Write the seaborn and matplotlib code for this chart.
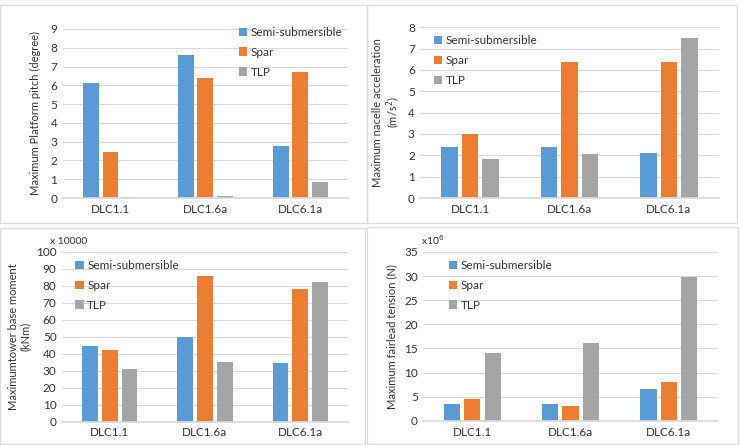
import numpy as np
import pandas as pd
import seaborn as sns
import matplotlib.pyplot as plt
from matplotlib.patches import Rectangle

# Values
cases = ['DLC1.1', 'DLC1.6a', 'DLC6.1a']
platforms = ['Semi-submersible', 'Spar', 'TLP']

pitch_semi = [6.1, 7.6, 2.75]
pitch_spar = [2.45, 6.4, 6.72]
pitch_tlp = [0.05, 0.1, 0.85]

acc_semi = [2.4, 2.37, 2.12]
acc_spar = [3.0, 6.38, 6.35]
acc_tlp = [1.82, 2.05, 7.48]

moment_semi = [44.8, 50.2, 34.8]
moment_spar = [42.0, 85.6, 78.3]
moment_tlp = [31.2, 35.3, 82.5]

tension_semi = [3.6, 3.6, 6.7]
tension_spar = [4.6, 3.2, 8.1]
tension_tlp = [14.0, 16.2, 29.8]

colors = ['#5B9BD5', '#ED7D31', '#A5A5A5']


def long_table(semi, spar, tlp):
    rows = []
    for name, vals in zip(platforms, [semi, spar, tlp]):
        for c, v in zip(cases, vals):
            rows.append({'case': c, 'platform': name, 'value': v})
    return pd.DataFrame(rows)


sns.set_theme(style='white')
plt.rcParams['font.family'] = ['Lato', 'DejaVu Sans']
plt.rcParams['text.color'] = '#333333'

fig = plt.figure(figsize=(7.4, 4.45), dpi=100)

# light panel borders, like four pasted Excel charts
for (x0, y0, x1, y1) in [(0, 5, 367, 223), (367, 5, 737, 223),
                         (0, 228, 365, 444), (367, 227, 738, 444)]:
    fig.patches.append(Rectangle((x0 / 740, 1 - y1 / 445), (x1 - x0) / 740, (y1 - y0) / 445,
                                 transform=fig.transFigure, fill=False,
                                 edgecolor='#DCDCDC', linewidth=1.0))

panels = [
    dict(rect=[0.085, 0.555, 0.385, 0.380], data=(pitch_semi, pitch_spar, pitch_tlp),
         ylim=9, step=1, ylabel='Maximum Platform pitch (degree)', leg=(0.60, 1.04), pad=7),
    dict(rect=[0.568, 0.555, 0.403, 0.384], data=(acc_semi, acc_spar, acc_tlp),
         ylim=8, step=1, ylabel='Maximum nacelle acceleration\n(m/s$^2$)', leg=(0.03, 0.98), pad=4),
    dict(rect=[0.084, 0.052, 0.386, 0.382], data=(moment_semi, moment_spar, moment_tlp),
         ylim=100, step=10, ylabel='Maximumtower base moment\n(kNm)', leg=(0.03, 0.98), pad=4),
    dict(rect=[0.572, 0.054, 0.398, 0.380], data=(tension_semi, tension_spar, tension_tlp),
         ylim=35, step=5, ylabel='Maximum fairlead tension (N)', leg=(0.07, 0.98), pad=5),
]

for p in panels:
    ax = fig.add_axes(p['rect'])
    df = long_table(*p['data'])
    sns.barplot(data=df, x='case', y='value', hue='platform', palette=colors,
                width=0.62, gap=0.2, ax=ax, saturation=1, edgecolor='none')
    ax.set_ylim(0, p['ylim'])
    ax.set_yticks(np.arange(0, p['ylim'] + 0.1, p['step']))
    ax.set_xlim(-0.5, 2.5)
    ax.yaxis.grid(True, color='#D9D9D9', linewidth=0.8)
    ax.set_axisbelow(True)
    for s in ['top', 'right', 'left']:
        ax.spines[s].set_visible(False)
    ax.spines['bottom'].set_color('#D9D9D9')
    ax.tick_params(axis='both', length=0, labelsize=8.5, colors='#333333', pad=4)
    ax.set_xlabel('')
    ax.set_ylabel(p['ylabel'], fontsize=8, color='#333333', linespacing=1.1, labelpad=p['pad'])
    ax.legend(loc='upper left', bbox_to_anchor=p['leg'], frameon=False, fontsize=8.5,
              handlelength=0.7, handleheight=0.7, handletextpad=0.3, labelspacing=0.75,
              borderaxespad=0)

fig.text(50 / 740, 1 - 242 / 445, 'x 10000', fontsize=7.5, color='#333333', va='center')
fig.text(421 / 740, 1 - 240 / 445, 'x10$^6$', fontsize=7.5, color='#333333', va='center')

fig.savefig('out.png', dpi=100)
